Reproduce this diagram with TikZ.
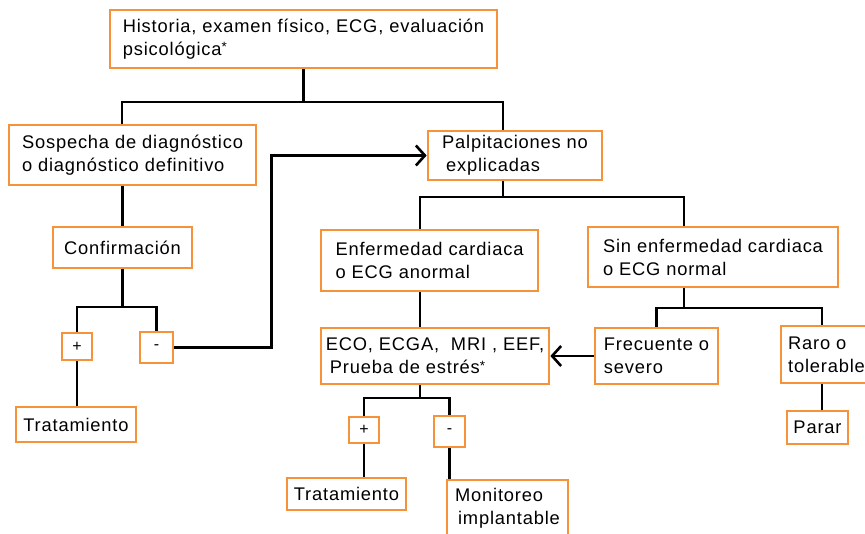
\documentclass[tikz,border=0pt]{standalone}
\usepackage{fontspec}
\setmainfont{Liberation Sans}[LetterSpace=4.5]
\usetikzlibrary{arrows.meta,calc}
\definecolor{boxorange}{RGB}{245,146,58}
% small raised asterisk used after some entries
\newcommand{\smallast}{\raisebox{3.5pt}{\fontsize{13.5}{13.5}\selectfont *}}
\begin{document}
\begin{tikzpicture}[x=1pt,y=-1pt,
  box/.style={draw=boxorange,line width=2.7pt,fill=white,rectangle,inner sep=0pt,
    align=left,font=\fontsize{18.3}{23}\selectfont},
  sign/.style={box,align=center,font=\fontsize{16}{18}\selectfont},
  link/.style={line width=2.6pt},
  arr/.style={link,-{Straight Barb[length=9pt,width=20pt]}}]
\useasboundingbox (0,0) rectangle (865,533);
\clip (0,0) rectangle (865,533);
\fill[white] (0,0) rectangle (865,533);

% boxes
\node[box,minimum width=387pt,minimum height=58pt] (hist) at (303.5,39)
  {Historia, examen físico, ECG, evaluación\\psicológica\smallast};
\node[box,minimum width=247pt,minimum height=60pt] (sosp) at (132.5,155)
  {Sospecha de diagnóstico\\o diagnóstico definitivo};
\node[box,minimum width=174pt,minimum height=49pt] (palp) at (515,155.5)
  {Palpitaciones no\\\hspace*{4pt}explicadas};
\node[box,minimum width=139pt,minimum height=41pt] (conf) at (122.5,247.5) {Confirmación};
\node[sign,minimum width=30pt,minimum height=27pt] (pos1) at (77,346.5) {+};
\node[sign,minimum width=33pt,minimum height=31pt] (neg1) at (156.5,347.5) {-};
\node[box,minimum width=120pt,minimum height=35pt] (trat1) at (76,424.5) {Tratamiento};
\node[box,minimum width=217pt,minimum height=61pt] (enf) at (429.5,260.5)
  {Enfermedad cardiaca\\o ECG anormal};
\node[box,minimum width=250pt,minimum height=60pt] (sin) at (713,257)
  {Sin enfermedad cardiaca\\o ECG normal};
\node[box,minimum width=228pt,minimum height=56pt] (eco) at (435,356)
  {ECO, ECGA,\ \ MRI , EEF,\\\hspace*{4pt}Prueba de estrés\smallast};
\node[box,minimum width=123pt,minimum height=56pt] (frec) at (656.5,356) {Frecuente o\\severo};
\node[box,minimum width=91pt,minimum height=57pt] (raro) at (826.5,354.5) {Raro o\\tolerable};
\node[box,minimum width=61pt,minimum height=33pt] (parar) at (817.5,427.5) {Parar};
\node[sign,minimum width=30pt,minimum height=26pt] (pos2) at (364,430) {+};
\node[sign,minimum width=31pt,minimum height=31pt] (neg2) at (449.5,431.5) {-};
\node[box,minimum width=119pt,minimum height=32pt] (trat2) at (346.5,494) {Tratamiento};
\node[box,minimum width=121pt,minimum height=56pt] (moni) at (507.5,508)
  {Monitoreo\\\hspace*{3pt}implantable};

% connectors
\coordinate (j1) at (303.5,102);
\draw[link] (hist.south) -- (j1);
\draw[link] ([xshift=-10.5pt]sosp.north) |- (j1) -| ([xshift=-12pt]palp.north);
\draw[link] (sosp.south -| conf.north) -- (conf.north);

\coordinate (j2) at (122.5,307);
\draw[link] (conf.south) -- (j2);
\draw[link] (pos1.north) |- (j2) -| (neg1.north);
\draw[link] (pos1.south) -- (pos1.south |- trat1.north);
\draw[arr] (neg1.east) -| ([xshift=-155pt]palp.west) -- (palp.west);

\coordinate (j3) at (503,197);
\draw[link] ([xshift=-12pt]palp.south) -- (j3);
\draw[link] ([xshift=-9.5pt]enf.north) |- (j3) -| ([xshift=-29pt]sin.north);
\draw[link] ([xshift=-9.5pt]enf.south) -- ([xshift=-15pt]eco.north);

\coordinate (j4) at (420,398);
\draw[link] ([xshift=-15pt]eco.south) -- (j4);
\draw[link] (pos2.north) |- (j4) -| (neg2.north);
\draw[link] (pos2.south) -- (pos2.south |- trat2.north);
\draw[link] (neg2.south) -- (neg2.south |- moni.north);

\coordinate (j5) at (684,308);
\draw[link] ([xshift=-29pt]sin.south) -- (j5);
\draw[link] (frec.north) |- (j5) -| ([xshift=-4.5pt]raro.north);
\draw[arr] (frec.west) -- (eco.east);
\draw[link] ([xshift=-4.5pt]raro.south) -- ([xshift=-4.5pt]raro.south |- parar.north);
\end{tikzpicture}
\end{document}
